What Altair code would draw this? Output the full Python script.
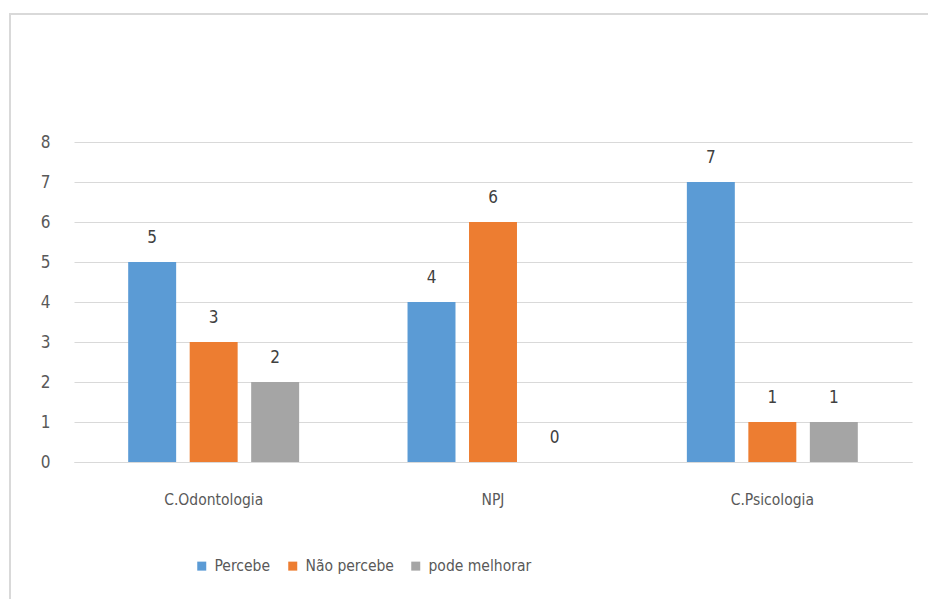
import altair as alt
import pandas as pd

# Survey answers per service
categories = ["C.Odontologia", "NPJ", "C.Psicologia"]
series = ["Percebe", "Não percebe", "pode melhorar"]
percebe = [5, 4, 7]
nao_percebe = [3, 6, 1]
pode_melhorar = [2, 0, 1]
colors = ["#5b9bd5", "#ed7d31", "#a5a5a5"]
y_ticks = [0, 1, 2, 3, 4, 5, 6, 7, 8]

rows = []
for s, vals in zip(series, [percebe, nao_percebe, pode_melhorar]):
    for c, v in zip(categories, vals):
        rows.append({"categoria": c, "resposta": s, "valor": v})
df = pd.DataFrame(rows)

FONT = "DejaVu Sans Condensed, Liberation Sans Narrow, Liberation Sans, sans-serif"
W, H = 838, 320
PAD_L, PAD_T, PAD_R, PAD_B = 74, 142, 16, 137

x = alt.X("categoria:N", sort=categories, title=None,
          scale=alt.Scale(paddingInner=0.388, paddingOuter=0.194),
          axis=alt.Axis(labelAngle=0, labelPadding=30, labelFontSize=15.5,
                        labelColor="#595959", labelFont=FONT, ticks=False,
                        grid=False, domainColor="#d9d9d9", domainWidth=1))
x_off = alt.XOffset("resposta:N", sort=series,
                    scale=alt.Scale(paddingInner=0.22, paddingOuter=0))
y = alt.Y("valor:Q", title=None,
          scale=alt.Scale(domain=[0, 8], nice=False),
          axis=alt.Axis(values=y_ticks, format="d", labelPadding=24,
                        labelFontSize=17, labelColor="#595959", labelFont=FONT,
                        ticks=False, domain=False, gridColor="#d9d9d9",
                        gridWidth=1))

bars = alt.Chart(df).mark_bar().encode(
    x=x, xOffset=x_off, y=y,
    color=alt.Color("resposta:N", sort=series,
                    scale=alt.Scale(domain=series, range=colors),
                    legend=alt.Legend(title=None, orient="none",
                                      direction="horizontal",
                                      legendX=120, legendY=416,
                                      symbolType="square", symbolSize=81,
                                      symbolStrokeWidth=0,
                                      labelFontSize=15.5, labelFont=FONT,
                                      labelColor="#595959", labelOffset=5,
                                      columnPadding=14)),
)

labels = alt.Chart(df).mark_text(
    dy=-24, fontSize=17, font=FONT, color="#404040"
).encode(x=x, xOffset=x_off, y=y, text=alt.Text("valor:Q", format="d"))

frame = alt.Chart(pd.DataFrame({"k": [0]})).mark_rect(
    fill=None, stroke="#d9d9d9", strokeWidth=2
).encode(
    x=alt.value(10 - PAD_L), x2=alt.value(940 - PAD_L),
    y=alt.value(14 - PAD_T), y2=alt.value(610 - PAD_T),
)

chart = (
    alt.layer(frame, bars, labels)
    .properties(
        width=W, height=H,
        background="white",
        autosize=alt.AutoSizeParams(type="none"),
        padding={"left": PAD_L, "top": PAD_T, "right": PAD_R, "bottom": PAD_B},
    )
    .configure_view(stroke="transparent")
    .configure_axisX(grid=False)
)

chart.save("out.html", embed_options={"renderer": "svg", "actions": False})
